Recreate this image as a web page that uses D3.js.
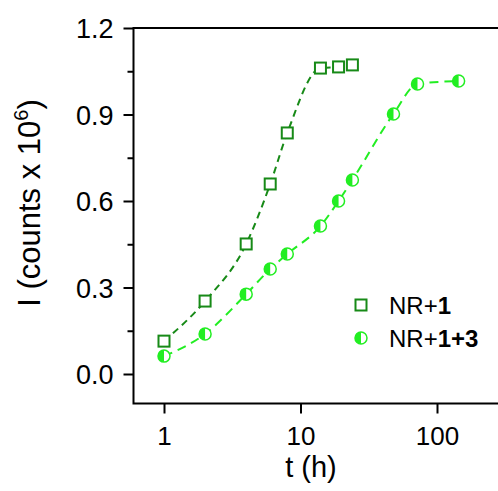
<!DOCTYPE html>
<html>
<head>
<meta charset="utf-8">
<script src="https://cdn.jsdelivr.net/npm/d3@7"></script>
<style>
  body { margin: 0; background: #fff; }
  svg { display: block; font-family: Arial, "Liberation Sans", sans-serif; }
</style>
</head>
<body>
<svg id="drawing_region"></svg>
<script>
// data
const times_a = [1, 2, 4, 6, 8, 14, 19, 24];
const values_a = [0.114, 0.253, 0.451, 0.659, 0.836, 1.061, 1.065, 1.072];
const times_b = [1, 2, 4, 6, 8, 14, 19, 24, 48, 72, 144];
const values_b = [0.062, 0.139, 0.277, 0.364, 0.416, 0.513, 0.60, 0.673, 0.902, 1.006, 1.016];
const y_ticks = [0.0, 0.3, 0.6, 0.9, 1.2];
const x_ticks = [1, 10, 100];

const width = 498, height = 491;
const margin = { left: 133.5, top: 28, right: 0, bottom: 88 };
const dark = '#178a17', light = '#22ee22';

const svg = d3.select('#drawing_region')
    .attr('width', width)
    .attr('height', height);

// log x scale: 1 -> 164px, 10 -> 300.5px
const xScale = d3.scaleLog()
    .domain([1, 10])
    .range([164, 300.5]);
const yScale = d3.scaleLinear()
    .domain([0, 1.2])
    .range([374, 28]);

const bottom = height - margin.bottom + 0.5;

// frame: left, top, bottom
svg.append('path')
    .attr('d', `M${width},${margin.top}H${margin.left}V${bottom}H${width}`)
    .attr('fill', 'none')
    .attr('stroke', 'black')
    .attr('stroke-width', 2);

// y axis (minor ticks every 0.15)
const yAxis = d3.axisLeft(yScale)
    .tickValues(d3.range(0, 1.21, 0.15))
    .tickSize(0)
    .tickFormat('');
const yg = svg.append('g')
    .attr('transform', `translate(${margin.left},0)`)
    .call(yAxis);
yg.select('.domain').remove();
yg.selectAll('.tick line')
    .attr('x2', (d, i) => i % 2 === 0 ? -10 : -6)
    .attr('stroke-width', 2);
yg.selectAll('.tick')
    .filter((d, i) => i % 2 === 0)
    .append('text')
    .attr('x', -20)
    .attr('dy', '0.36em')
    .attr('fill', 'black')
    .attr('text-anchor', 'end')
    .style('font-size', '27px')
    .text(d => d.toFixed(1));

// x axis
const xAxis = d3.axisBottom(xScale)
    .tickValues(x_ticks)
    .tickSize(10)
    .tickPadding(13)
    .tickFormat(d3.format('d'));
const xg = svg.append('g')
    .attr('transform', `translate(0,${bottom})`)
    .call(xAxis);
xg.select('.domain').remove();
xg.selectAll('.tick line').attr('stroke-width', 2);
xg.selectAll('.tick text')
    .attr('fill', 'black')
    .style('font-size', '26px');

// axis titles
svg.append('text')
    .attr('x', 311)
    .attr('y', 477)
    .attr('text-anchor', 'middle')
    .style('font-size', '29px')
    .text('t (h)');

const ytitle = svg.append('text')
    .attr('transform', 'translate(40,203) rotate(-90)')
    .attr('text-anchor', 'middle')
    .style('font-size', '31px');
ytitle.append('tspan').text('I (counts x 10');
ytitle.append('tspan').attr('dy', -12).style('font-size', '20px').text('6');
ytitle.append('tspan').attr('dy', 12).text(')');

// dashed curves through the points
const line = d3.line()
    .x(d => xScale(d[0]))
    .y(d => yScale(d[1]))
    .curve(d3.curveMonotoneX);

const series_a = d3.zip(times_a, values_a);
const series_b = d3.zip(times_b, values_b);

svg.append('path')
    .attr('d', line(series_a))
    .attr('fill', 'none')
    .attr('stroke', dark)
    .attr('stroke-width', 2)
    .attr('stroke-dasharray', '7,5');

svg.append('path')
    .attr('d', line(series_b))
    .attr('fill', 'none')
    .attr('stroke', light)
    .attr('stroke-width', 2)
    .attr('stroke-dasharray', '9,6');

// markers
function square(g, x, y) {
    g.append('rect')
        .attr('x', x - 5.5)
        .attr('y', y - 5.5)
        .attr('width', 11)
        .attr('height', 11)
        .attr('fill', 'white')
        .attr('stroke', dark)
        .attr('stroke-width', 2);
}
function halfCircle(g, x, y) {
    const r = 6;
    g.append('circle')
        .attr('cx', x).attr('cy', y).attr('r', r)
        .attr('fill', 'white')
        .attr('stroke', light)
        .attr('stroke-width', 1.5);
    g.append('path')
        .attr('d', `M${x},${y - r}A${r},${r} 0 0 0 ${x},${y + r}Z`)
        .attr('fill', light);
}

const marks = svg.append('g');
series_a.forEach(d => square(marks, xScale(d[0]), yScale(d[1])));
series_b.forEach(d => halfCircle(marks, xScale(d[0]), yScale(d[1])));

// legend
const legend = svg.append('g');
square(legend, 361, 305);
halfCircle(legend, 361, 338);
const l1 = legend.append('text').attr('x', 389).attr('y', 314).style('font-size', '24px');
l1.append('tspan').text('NR+');
l1.append('tspan').style('font-weight', 'bold').text('1');
const l2 = legend.append('text').attr('x', 389).attr('y', 347).style('font-size', '24px');
l2.append('tspan').text('NR+');
l2.append('tspan').style('font-weight', 'bold').text('1+3');
</script>
</body>
</html>
